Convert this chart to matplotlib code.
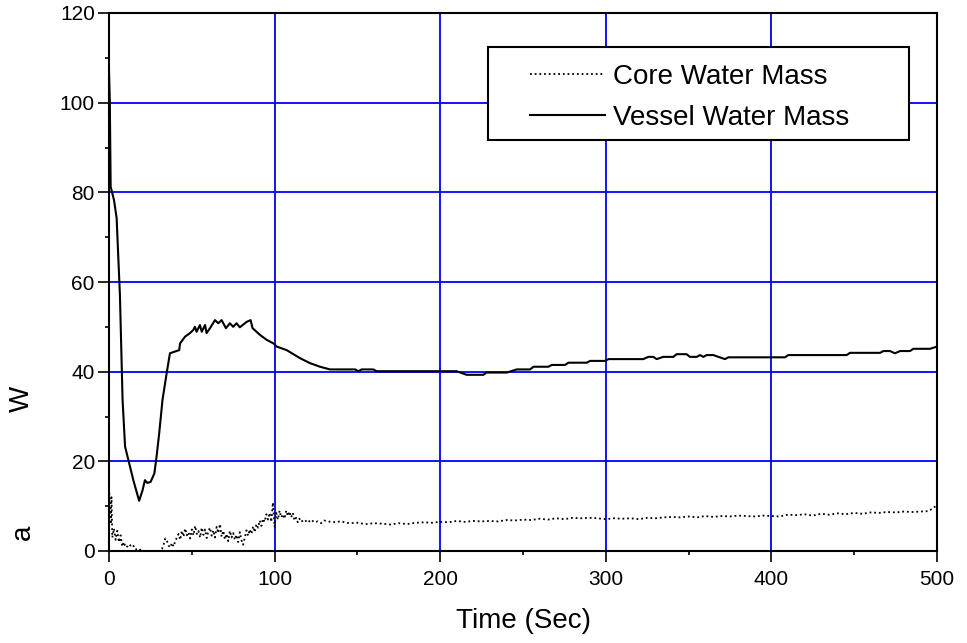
import matplotlib
matplotlib.use("Agg")
import matplotlib.pyplot as plt
from matplotlib.patches import Rectangle
from matplotlib.ticker import MultipleLocator

plt.rcParams['font.family'] = ['Liberation Sans', 'DejaVu Sans']

# Vessel water mass (solid)
vessel_t = [0, 0.5, 1.0, 3.0, 4.6, 6.6, 8.2, 9.7, 11.7, 14.7, 18.2, 20.3, 21.7, 23.1, 25.1,
            27.4, 28.7, 30.3, 32.3, 34.8, 36.8, 39.9, 42.4, 42.9, 45.9, 48.9, 50.9, 51.9,
            52.9, 54.9, 56.0, 58.0, 58.9, 61.0, 64.0, 66.0, 68.0, 70.6, 73.0, 75.0, 77.0,
            79.0, 83.1, 85.5, 86.7, 91.2, 95.2, 99.3, 101.3, 104.3, 107.3, 115.4, 121.4,
            127.4, 133.5, 148.6, 150.6, 152.6, 159.6, 161.6, 209.9, 216.0, 226.0, 228.0,
            240.2, 246.2, 254.3, 256.3, 265.3, 267.4, 275.4, 277.4, 288.5, 290.5, 299.6,
            301.6, 322.6, 325.7, 328.7, 330.7, 334.7, 340.8, 342.8, 348.8, 350.8, 354.9,
            356.9, 358.9, 360.9, 364.9, 368.0, 372.0, 374.0, 408.2, 410.2, 445.4, 447.5,
            465.6, 467.6, 471.6, 474.6, 477.7, 483.7, 485.7, 495.8, 500.0]
vessel_m = [107.0, 100.0, 81.3, 78.3, 74.3, 57.0, 33.7, 23.3, 20.3, 15.8, 11.2, 13.6, 15.8,
            15.2, 15.4, 17.3, 21.0, 26.2, 33.7, 39.6, 44.1, 44.5, 44.8, 46.3, 47.8, 48.6,
            49.3, 50.0, 48.9, 50.4, 48.9, 50.4, 48.6, 49.7, 51.5, 50.8, 51.5, 49.7, 50.8,
            50.0, 50.8, 49.9, 51.1, 51.5, 49.7, 48.2, 47.1, 46.3, 45.6, 45.2, 44.8, 43.0,
            41.9, 41.1, 40.5, 40.5, 40.1, 40.5, 40.5, 40.1, 40.1, 39.3, 39.3, 39.8, 39.8,
            40.5, 40.5, 41.1, 41.1, 41.5, 41.5, 42.0, 42.0, 42.4, 42.4, 42.8, 42.8, 43.3,
            43.3, 42.8, 43.3, 43.3, 43.9, 43.9, 43.3, 43.3, 43.7, 43.3, 43.7, 43.7, 43.3,
            42.8, 43.2, 43.2, 43.7, 43.7, 44.2, 44.2, 44.6, 44.6, 44.1, 44.6, 44.6, 45.1,
            45.1, 45.6]

# Core water mass (dotted)
core_t = [0, 0.5, 1, 1.5, 2, 3, 4, 5, 6, 7, 8, 9, 10, 11, 12, 13, 14, 15, 16, 17, 18, 19,
          20, 21, 22, 24, 26, 28, 30, 31, 32, 33, 34, 35, 36, 37, 38, 39, 40, 41, 42, 43,
          44, 45, 46, 47, 48, 49, 50, 51, 52, 53, 54, 55, 56, 57, 58, 59, 60, 61, 62, 63,
          64, 65, 66, 67, 68, 69, 70, 71, 72, 73, 74, 75, 76, 77, 78, 79, 80, 81, 82, 83,
          84, 85, 86, 87, 88, 89, 90, 91, 92, 93, 94, 95, 96, 97, 98, 99, 100, 101, 102,
          103, 104, 105, 106, 107, 108, 109, 110, 111, 112, 113, 114, 115, 116, 118, 120,
          122, 124, 126, 128, 130, 135, 140, 145, 150, 155, 160, 165, 170, 175, 180, 185,
          190, 195, 200, 205, 210, 215, 220, 225, 230, 235, 240, 245, 250, 255, 260, 265,
          270, 275, 280, 285, 290, 295, 300, 305, 310, 315, 320, 325, 330, 335, 340, 345,
          350, 355, 360, 365, 370, 375, 380, 385, 390, 395, 400, 405, 410, 415, 420, 425,
          430, 435, 440, 445, 450, 455, 460, 465, 470, 475, 480, 485, 490, 495, 500]
core_m = [14, 11, 6, 12, 3, 5, 2.5, 4.5, 2, 3.5, 1, 2, 0.8, 1, 1.5, 1.2, 1.5, 1, 0.3, 0.5,
          0.2, 0.3, 0.2, 0, 0, 0, 0, 0, 0, 0.3, 0.5, 1.5, 2.8, 2.2, 1.2, 0.8, 1.8, 1, 2.2,
          3, 3.8, 2.5, 4.5, 3.2, 5, 3.5, 4.2, 2.8, 4.8, 3.5, 5.6, 3.8, 4.5, 3, 5.2, 3.6,
          4.8, 2.9, 4.4, 5.2, 3.4, 4.6, 3, 5.4, 4, 6, 3.2, 4.5, 2.6, 3.8, 2.2, 4.5, 3, 4,
          2.5, 3.6, 2, 4.2, 2.4, 1.4, 3, 4.6, 3.4, 4.8, 3.8, 5.5, 4.2, 6, 5.2, 6.8, 5.6,
          7.2, 6.5, 8.2, 7, 8.5, 6.5, 10.8, 5.4, 8.5, 7, 9, 7.5, 8.2, 7.2, 9, 7.8, 8.8,
          7.5, 8.5, 6.8, 7.4, 6.4, 7.2, 6.5, 7, 6.3, 7, 6.4, 6.6, 6.2, 6.8, 6.4, 6.6, 6.2,
          6.3, 6.0, 6.2, 6.1, 5.9, 6.2, 6.0, 6.3, 6.4, 6.3, 6.5, 6.4, 6.7, 6.5, 6.7, 6.6,
          6.7, 6.6, 6.9, 6.8, 7.0, 6.9, 7.2, 7.0, 7.3, 7.1, 7.4, 7.3, 7.4, 7.3, 7.1, 7.3,
          7.2, 7.3, 7.1, 7.4, 7.3, 7.5, 7.6, 7.5, 7.7, 7.5, 7.8, 7.6, 7.8, 7.7, 7.9, 7.8,
          7.7, 7.9, 7.8, 7.7, 8.1, 8.0, 8.2, 7.9, 8.3, 8.1, 8.4, 8.2, 8.5, 8.3, 8.6, 8.5,
          8.7, 8.6, 8.8, 8.7, 8.8, 8.9, 10.2]

x_ticks = [0, 100, 200, 300, 400, 500]
y_ticks = [0, 20, 40, 60, 80, 100, 120]
labels = ['Core Water Mass', 'Vessel Water Mass']

fig = plt.figure(figsize=(9.67, 6.43), dpi=100)
ax = fig.add_axes([109/967, 1-551/643, (937-109)/967, (551-13)/643])

l1, = ax.plot(core_t, core_m, color='black', lw=1.3, linestyle=(0, (1.0, 1.6)), label=labels[0])
l2, = ax.plot(vessel_t, vessel_m, color='black', lw=1.5, label=labels[1])

ax.set_xlim(0, 500)
ax.set_ylim(0, 120)
ax.set_xticks(x_ticks)
ax.set_yticks(y_ticks)
ax.xaxis.set_minor_locator(MultipleLocator(50))
ax.yaxis.set_minor_locator(MultipleLocator(10))
ax.tick_params(which='major', direction='out', length=7.7, width=1.2, labelsize=15, pad=2.5)
ax.tick_params(axis='x', which='major', pad=6)
ax.tick_params(which='minor', direction='out', length=3, width=1.2)
ax.grid(True, which='major', color='#0000FF', lw=1.3)
ax.set_axisbelow(True)
for s in ax.spines.values():
    s.set_linewidth(1.5)

ax.set_xlabel('Time (Sec)', fontsize=20, labelpad=14)

fig.text(22/967, 1-399/643, 'W', rotation=90, fontsize=20, ha='center', va='center')
fig.text(23/967, 1-532/643, 'a', rotation=90, fontsize=20, ha='center', va='center')

leg = ax.legend(handles=[l1, l2], loc='upper left',
                bbox_to_anchor=((530-109)/828, 1-(64-13)/538),
                frameon=False, fontsize=20, borderpad=0, borderaxespad=0,
                handlelength=2.7, handletextpad=0.3, labelspacing=0.53)
ax.add_patch(Rectangle(((488-109)/828, 1-(140-13)/538), (909-488)/828, (140-47)/538,
                       transform=ax.transAxes, facecolor='white', edgecolor='black',
                       lw=1.5, zorder=4))
leg.set_zorder(5)

fig.savefig('out.png', dpi=100)
